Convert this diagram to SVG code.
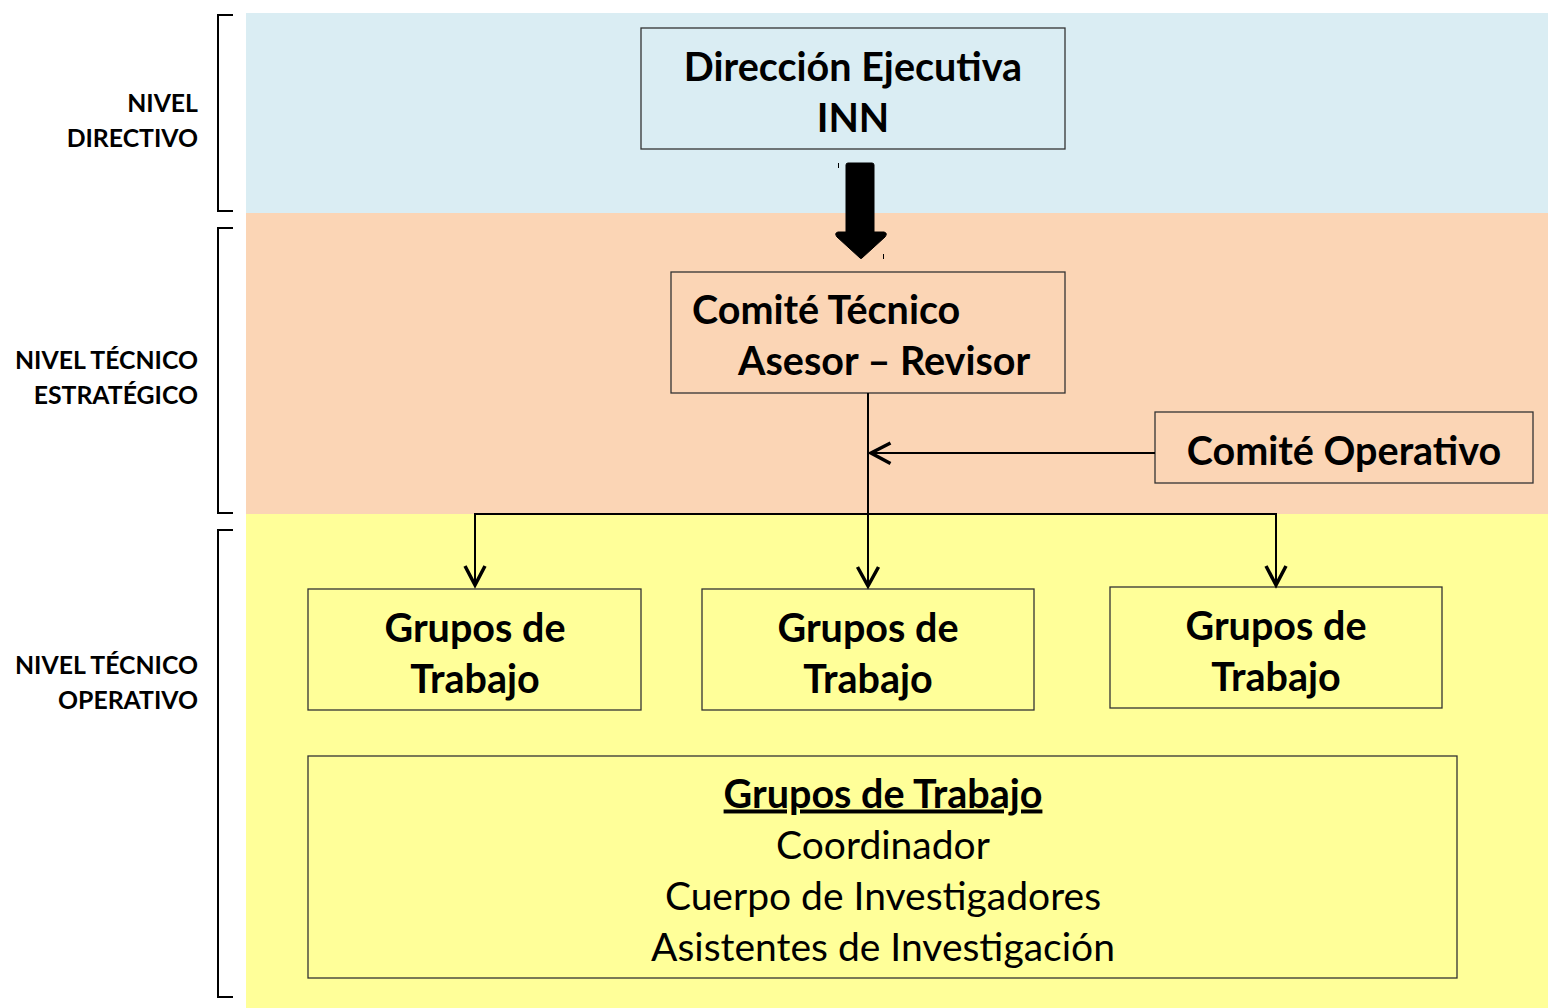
<svg xmlns="http://www.w3.org/2000/svg" width="1548" height="1008" viewBox="0 0 1548 1008">
  <style>
    .box { stroke: #333; stroke-width: 1.3; }
    .t { font-family: Lato, "Open Sans", sans-serif; fill: #000; }
    .b { font-weight: bold; font-size: 39.5px; }
    .r { font-size: 39px; }
    .lab { font-family: Lato, "Open Sans", sans-serif; font-weight: bold; font-size: 24.8px; text-anchor: end; }
    .br { fill: none; stroke: #000; stroke-width: 2; }
    .ln { fill: none; stroke: #000; stroke-width: 2; }
    .ah { fill: none; stroke: #000; stroke-width: 3.5; }
  </style>
  <rect width="1548" height="1008" fill="#fff"/>
  <g id="bands">
    <rect x="246" y="13" width="1302" height="200" fill="#daedf3"/>
    <rect x="246" y="213" width="1302" height="301" fill="#fbd5b5"/>
    <rect x="246" y="514" width="1302" height="494" fill="#ffff99"/>
  </g>
  <g id="brackets">
    <path class="br" d="M233,15 H218 V211 H233"/>
    <path class="br" d="M233,228 H218 V513 H233"/>
    <path class="br" d="M233,530 H218 V997 H233"/>
  </g>
  <g id="labels">
    <text class="lab" x="198" y="112">NIVEL</text>
    <text class="lab" x="198" y="147">DIRECTIVO</text>
    <text class="lab" x="198" y="369">NIVEL TÉCNICO</text>
    <text class="lab" x="198" y="404">ESTRATÉGICO</text>
    <text class="lab" x="198" y="674">NIVEL TÉCNICO</text>
    <text class="lab" x="198" y="709">OPERATIVO</text>
  </g>
  <g id="direccion">
    <rect class="box" x="641" y="28" width="424" height="121" fill="#daedf3"/>
    <text class="t b" x="853" y="80.5" text-anchor="middle">Dirección Ejecutiva</text>
    <text class="t b" x="853" y="131.5" text-anchor="middle">INN</text>
  </g>
  <g id="big-arrow">
    <path d="M848,163 H872 Q874,163 874,165 V232 H884 Q888,233 885,237 L862,258 Q861,259 860,258 L837,237 Q834,233 838,232 H846 V165 Q846,163 848,163 Z" fill="#000" stroke="#000" stroke-width="1" stroke-linejoin="round"/>
    <line x1="838.5" y1="163" x2="838.5" y2="168" stroke="#000" stroke-width="1"/>
    <line x1="883.5" y1="254" x2="883.5" y2="259" stroke="#000" stroke-width="1"/>
  </g>
  <g id="comite-tecnico">
    <rect class="box" x="671" y="272" width="394" height="121" fill="#fbd5b5"/>
    <text class="t b" x="692" y="324">Comité Técnico</text>
    <text class="t b" x="738" y="375">Asesor – Revisor</text>
  </g>
  <g id="comite-operativo">
    <rect class="box" x="1155" y="412" width="378" height="71" fill="#fbd5b5"/>
    <text class="t b" x="1344" y="465" text-anchor="middle">Comité Operativo</text>
  </g>
  <g id="grupo-1">
    <rect class="box" x="308" y="589" width="333" height="121" fill="#ffff99"/>
    <text class="t b" x="475" y="642" text-anchor="middle">Grupos de</text>
    <text class="t b" x="475" y="693" text-anchor="middle">Trabajo</text>
  </g>
  <g id="grupo-2">
    <rect class="box" x="702" y="589" width="332" height="121" fill="#ffff99"/>
    <text class="t b" x="868" y="642" text-anchor="middle">Grupos de</text>
    <text class="t b" x="868" y="693" text-anchor="middle">Trabajo</text>
  </g>
  <g id="grupo-3">
    <rect class="box" x="1110" y="587" width="332" height="121" fill="#ffff99"/>
    <text class="t b" x="1276" y="640" text-anchor="middle">Grupos de</text>
    <text class="t b" x="1276" y="691" text-anchor="middle">Trabajo</text>
  </g>
  <g id="grupos-detalle">
    <rect class="box" x="308" y="756" width="1149" height="222" fill="#ffff99"/>
    <text class="t b" x="883" y="807.5" text-anchor="middle" text-decoration="underline">Grupos de Trabajo</text>
    <text class="t r" x="883" y="859" text-anchor="middle">Coordinador</text>
    <text class="t r" x="883" y="910" text-anchor="middle">Cuerpo de Investigadores</text>
    <text class="t r" x="883" y="961" text-anchor="middle">Asistentes de Investigación</text>
  </g>
  <g id="connectors">
    <line class="ln" x1="868" y1="393" x2="868" y2="585"/>
    <line class="ln" x1="1155" y1="453" x2="872" y2="453" stroke-width="1.5"/>
    <polyline class="ln" points="475,585 475,514 1276,514 1276,585"/>
    <polyline class="ah" points="890.5,443 871,453 890.5,463.5"/>
    <polyline class="ah" points="857.5,567 868,586 878.5,567"/>
    <polyline class="ah" points="465,566 475,585 485,566"/>
    <polyline class="ah" points="1266,566 1276,585 1286,566"/>
  </g>
</svg>
